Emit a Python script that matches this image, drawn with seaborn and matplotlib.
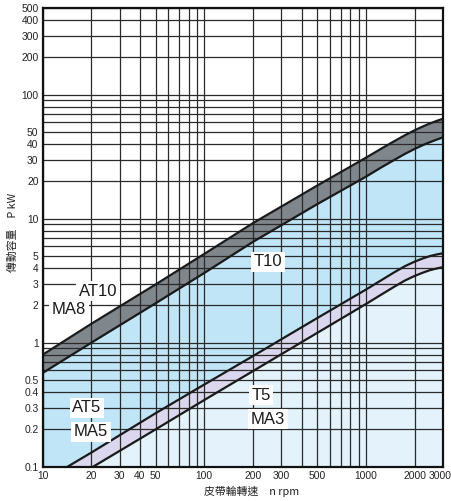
import matplotlib
matplotlib.use("Agg")
import matplotlib.pyplot as plt
import matplotlib.transforms as mtransforms
import seaborn as sns
import numpy as np
import pandas as pd

# ---- data ----
rpm = [10, 20, 50, 100, 200, 500, 1000, 1250, 1500, 1750, 2000, 2250, 2500, 2750, 3000]
at10_upper = [0.80, 1.42, 2.95, 5.2, 9.2, 18.5, 31.0, 36.8, 42.2, 47.2, 51.6, 55.4, 58.7, 61.5, 64.0]
ma8_lower = [0.57, 1.00, 2.08, 3.65, 6.5, 13.1, 21.8, 26.0, 29.8, 33.4, 36.5, 39.2, 41.5, 43.5, 45.3]
t5_upper = [0.076, 0.13, 0.27, 0.46, 0.78, 1.58, 2.68, 3.20, 3.70, 4.15, 4.50, 4.78, 5.00, 5.15, 5.26]
t5_lower = [0.056, 0.098, 0.20, 0.345, 0.59, 1.20, 2.05, 2.45, 2.83, 3.18, 3.45, 3.67, 3.85, 3.97, 4.07]

x_major = [10, 20, 30, 40, 50, 100, 200, 300, 500, 1000, 2000, 3000]
x_minor = [60, 70, 80, 90, 400, 600, 700, 800, 900]
y_major = [0.1, 0.2, 0.3, 0.4, 0.5, 1, 2, 3, 4, 5, 10, 20, 30, 40, 50,
           100, 200, 300, 400, 500]
y_minor = [0.6, 0.7, 0.8, 0.9, 6, 7, 8, 9, 60, 70, 80, 90]

df = pd.DataFrame({"rpm": rpm, "at10": at10_upper, "ma8": ma8_lower,
                   "t5u": t5_upper, "t5l": t5_lower})

sns.set_style("white")
plt.rcParams["font.family"] = ["Liberation Sans", "DejaVu Sans"]

fig = plt.figure(figsize=(4.52, 5.01), dpi=100)
ax = fig.add_axes([42.7 / 452, 1 - 466.7 / 501, (443 - 42.7) / 452, (466.7 - 8) / 501])
ax.set_xscale("log")
ax.set_yscale("log")
ax.set_xlim(10, 3000)
ax.set_ylim(0.1, 500)

x = df["rpm"].values
ax.fill_between(x, 0.01, df["t5l"], color="#e4f3fb", lw=0, zorder=1)
ax.fill_between(x, df["t5l"], df["t5u"], color="#dbd7ee", lw=0, zorder=1)
ax.fill_between(x, df["t5u"], df["ma8"], color="#bfe5f7", lw=0, zorder=1)
ax.fill_between(x, df["ma8"], df["at10"], color="#7f868c", lw=0, zorder=1)

for col in ["at10", "ma8", "t5u", "t5l"]:
    sns.lineplot(data=df, x="rpm", y=col, ax=ax, color="#1a1a1a", lw=1.6,
                 zorder=3, legend=False)

ax.set_xticks(x_major)
ax.set_xticklabels([str(v) for v in x_major])
ax.set_xticks(x_minor, minor=True)
ax.set_yticks(y_major)
ax.set_yticklabels([("%g" % v) for v in y_major])
ax.set_yticks(y_minor, minor=True)
ax.tick_params(which="both", length=0, labelsize=7.4, colors="#222222", pad=3)
ax.set_axisbelow(False)
ax.grid(which="both", color="#2a2a2a", lw=0.9)
for s in ax.spines.values():
    s.set_color("#111111")
    s.set_linewidth(1.6)
    s.set_zorder(5)

# keep the last x tick label inside the figure
last = ax.get_xticklabels()[-1]
last.set_horizontalalignment("right")
last.set_transform(last.get_transform() +
                   mtransforms.ScaledTranslation(8.5 / 100, 0, fig.dpi_scale_trans))

ax.set_xlabel("")
ax.set_ylabel("")
cjk = ["Noto Sans CJK TC", "DejaVu Sans"]
fig.text(252 / 452, 1 - 491 / 501, "皮帶輪轉速\u3000n rpm", ha="center", va="center",
         fontsize=7.8, family=cjk, color="#222222")
fig.text(13 / 452, 1 - 232 / 501, "傳動容量\u3000P kW", ha="center", va="center",
         fontsize=7.8, family=cjk, rotation=90, color="#222222")

box = dict(boxstyle="square,pad=0.15", fc="white", ec="none")
lab_font = dict(fontsize=12, family=["Liberation Sans", "DejaVu Sans"], color="#1a1a1a",
                ha="center", va="center", zorder=6)


def ftext(px, py, s, **kw):
    fig.text(px / 452, 1 - py / 501, s, bbox=box, **lab_font, **kw)


ftext(98, 291, "AT10")
ftext(69, 309, "MA8")
ftext(268, 262, "T10")
ftext(87, 408, "AT5")
ftext(91, 432, "MA5")
ftext(261, 395, "T5")
ftext(268, 419, "MA3")

fig.savefig("out.png", dpi=100)
